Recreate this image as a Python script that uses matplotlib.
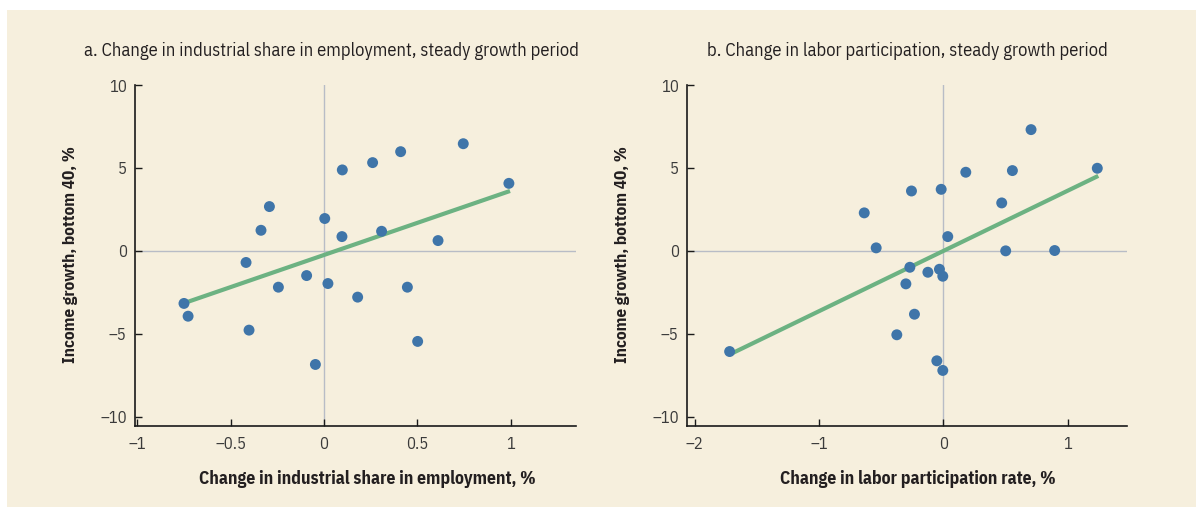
import matplotlib
matplotlib.use("Agg")
import matplotlib.pyplot as plt
from matplotlib.patches import Rectangle

plt.rcParams['font.family'] = ['IBM Plex Sans Condensed', 'DejaVu Sans']

# Panel a data
ind_x = [-0.749, -0.727, -0.401, -0.417, -0.337, -0.292, -0.244, -0.093, -0.046, 0.004, 0.021,
         0.098, 0.096, 0.180, 0.260, 0.308, 0.410, 0.446, 0.501, 0.610, 0.745, 0.989]
ind_y = [-3.17, -3.94, -4.78, -0.70, 1.24, 2.67, -2.19, -1.49, -6.85, 1.95, -1.97,
         4.88, 0.86, -2.79, 5.32, 1.18, 5.98, -2.19, -5.46, 0.62, 6.46, 4.07]
ind_fit_x = [-0.743, 0.995]
ind_fit_y = [-3.13, 3.61]

# Panel b data
lab_x = [-1.720, -0.637, -0.541, -0.375, -0.302, -0.270, -0.257, -0.233, -0.125, -0.053, -0.032,
         -0.018, -0.005, -0.005, 0.035, 0.180, 0.469, 0.501, 0.555, 0.705, 0.895, 1.238]
lab_y = [-6.07, 2.29, 0.18, -5.06, -1.99, -0.99, 3.61, -3.82, -1.29, -6.63, -1.11,
         3.71, -1.53, -7.21, 0.86, 4.74, 2.89, 0.0, 4.84, 7.31, 0.02, 4.98]
lab_fit_x = [-1.715, 1.246]
lab_fit_y = [-6.23, 4.52]

titles = ["a. Change in industrial share in employment, steady growth period",
          "b. Change in labor participation, steady growth period"]
xlabels = ["Change in industrial share in employment, %",
           "Change in labor participation rate, %"]
ylabel = "Income growth, bottom 40, %"
xticks_a = [-1, -0.5, 0, 0.5, 1]
xticklabels_a = ["\u20131", "\u20130.5", "0", "0.5", "1"]
xticks_b = [-2, -1, 0, 1]
xticklabels_b = ["\u20132", "\u20131", "0", "1"]
yticks = [-10, -5, 0, 5, 10]
yticklabels = ["\u201310", "\u20135", "0", "5", "10"]

BG = "#F6EFDD"
DOT = "#3F75A9"
LINE = "#6CB282"
ZERO = "#B8BCC6"
TXT = "#231F20"
TICK = "#3A3A3A"

W, H = 1196, 507
fig = plt.figure(figsize=(W / 100, H / 100), dpi=100)
fig.patch.set_facecolor("white")
fig.patches.append(Rectangle((7 / W, 0), 1 - 7 / W, (H - 10) / H,
                             transform=fig.transFigure, facecolor=BG,
                             edgecolor="none", zorder=-10))


def px_axes(x0, x1, ytop, ybot):
    return [x0 / W, (H - ybot) / H, (x1 - x0) / W, (ybot - ytop) / H]


ax1 = fig.add_axes(px_axes(135, 576, 85, 426))
ax2 = fig.add_axes(px_axes(687, 1127, 85, 426))

panels = [
    (ax1, ind_x, ind_y, ind_fit_x, ind_fit_y, (-1.011, 1.348), xticks_a, xticklabels_a),
    (ax2, lab_x, lab_y, lab_fit_x, lab_fit_y, (-2.063, 1.477), xticks_b, xticklabels_b),
]

for ax, xs, ys, fx, fy, xlim, xt, xtl in panels:
    ax.set_facecolor("none")
    ax.axhline(0, color=ZERO, lw=1.0, zorder=1)
    ax.axvline(0, color=ZERO, lw=1.0, zorder=1)
    ax.plot(fx, fy, color=LINE, lw=3.0, solid_capstyle="butt", zorder=2)
    ax.scatter(xs, ys, s=62, color=DOT, edgecolors="none", zorder=3)
    ax.set_xlim(*xlim)
    ax.set_ylim(-10.56, 10)
    ax.set_xticks(xt)
    ax.set_xticklabels(xtl)
    ax.set_yticks(yticks)
    ax.set_yticklabels(yticklabels)
    for s in ["top", "right"]:
        ax.spines[s].set_visible(False)
    for s in ["left", "bottom"]:
        ax.spines[s].set_linewidth(1.2)
        ax.spines[s].set_color("#1a1a1a")
    ax.tick_params(direction="in", length=5, width=1.0, color="#1a1a1a",
                   labelsize=12, labelcolor=TICK)
    ax.tick_params(axis="x", pad=7)
    ax.tick_params(axis="y", pad=6)

fig.text(331 / W, (H - 51) / H, titles[0], ha="center", va="center", fontsize=13.3, color=TXT)
fig.text(907 / W, (H - 51) / H, titles[1], ha="center", va="center", fontsize=13.3, color=TXT)
fig.text(367 / W, (H - 479) / H, xlabels[0], ha="center", va="center", fontsize=12.7,
         fontweight="bold", color=TXT)
fig.text(918 / W, (H - 479) / H, xlabels[1], ha="center", va="center", fontsize=12.7,
         fontweight="bold", color=TXT)
fig.text(71 / W, (H - 255) / H, ylabel, ha="center", va="center", rotation=90,
         fontsize=12.4, fontweight="bold", color=TXT)
fig.text(623 / W, (H - 255) / H, ylabel, ha="center", va="center", rotation=90,
         fontsize=12.4, fontweight="bold", color=TXT)

fig.savefig("out.png", dpi=100, facecolor=fig.get_facecolor())
